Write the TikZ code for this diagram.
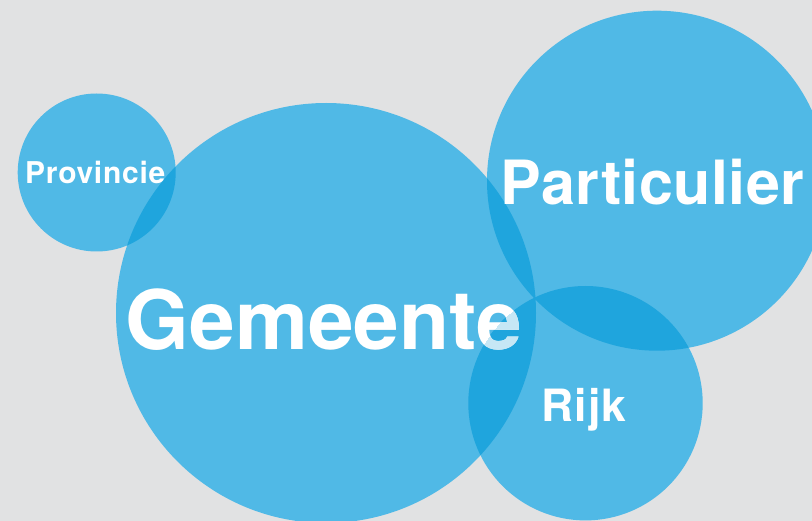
\documentclass[tikz,border=0pt]{standalone}
\usepackage{fontspec}
\setmainfont{TeX Gyre Heros}
\definecolor{bg}{HTML}{E1E2E3}
\definecolor{bubble}{HTML}{50B9E6}
\definecolor{overlap}{HTML}{1FA5DD}
\definecolor{tint}{HTML}{C6E7F5}
\begin{document}
\begin{tikzpicture}[x=1pt,y=-1pt,
  bubblestyle/.style={circle,fill=bubble,inner sep=0pt,draw=none},
  txt/.style={text=white,inner sep=0pt,anchor=base west}]
\useasboundingbox (0,0) rectangle (812,521);
\clip (0,0) rectangle (812,521);
\fill[bg] (0,0) rectangle (812,521);
% circles
\node[bubblestyle, minimum size=158pt] (prov) at (96.7,172.5) {};
\node[bubblestyle, minimum size=420pt] (gem) at (326,313) {};
\node[bubblestyle, minimum size=340pt] (part) at (657,180.7) {};
\node[bubblestyle, minimum size=234.4pt] (rijk) at (585.5,403.2) {};
% overlaps
\begin{scope}
  \clip (96.7,172.5) circle[radius=79pt];
  \fill[overlap] (326,313) circle[radius=210pt];
\end{scope}
\begin{scope}
  \clip (326,313) circle[radius=210pt];
  \fill[overlap] (657,180.7) circle[radius=170pt];
  \fill[overlap] (585.5,403.2) circle[radius=117.2pt];
\end{scope}
\begin{scope}
  \clip (657,180.7) circle[radius=170pt];
  \fill[overlap] (585.5,403.2) circle[radius=117.2pt];
\end{scope}
% texts
\node[txt, font=\bfseries\fontsize{30}{30}\selectfont\addfontfeature{LetterSpace=2.4}] (provt) at (25,184) {Provincie};
\node[txt, font=\bfseries\fontsize{61}{61}\selectfont\addfontfeature{LetterSpace=0.7}] (partt) at (500.5,205) {Particulier};
\node[txt, font=\bfseries\fontsize{82}{82}\selectfont] (gemt) at (125.7,349.3) {Gemeente};
\begin{scope}
  \clip (585.5,403.2) circle[radius=117.2pt];
  \node[txt, text=tint, font=\bfseries\fontsize{82}{82}\selectfont] (gemtint) at (125.7,349.3) {Gemeente};
\end{scope}
\node[txt, font=\bfseries\fontsize{44.5}{44.5}\selectfont\addfontfeature{LetterSpace=2}] (rijkt) at (541.7,421.7) {Rijk};
\end{tikzpicture}
\end{document}
